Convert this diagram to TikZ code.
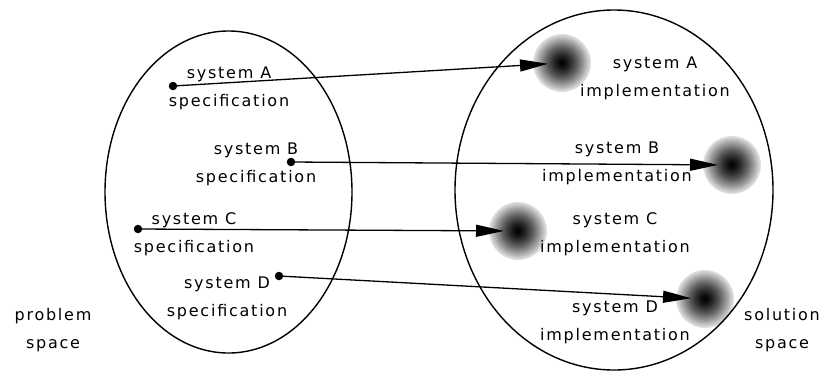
\documentclass[tikz,border=0pt]{standalone}
\usepackage{fontspec}
\newfontfamily\handfont[LetterSpace=11]{DejaVu Sans}
\usetikzlibrary{arrows.meta}

\begin{document}
\begin{tikzpicture}[
  x=1pt, y=-1pt,
  every node/.style={font=\handfont\fontsize{16}{28}\selectfont},
  lbl/.style={align=center, inner sep=0pt},
  dot/.style={circle, fill=black, inner sep=0pt, minimum size=8.5pt},
  spot/.style={circle, inner sep=0pt, minimum size=58pt},
  link/.style={line width=1.3pt, -{Triangle[length=28pt, width=12pt]}, shorten >=14pt},
  space/.style={draw, line width=1.4pt},
]
\useasboundingbox (0,0) rectangle (829,370);

% implementations, each a soft spot
\node[spot] (iA) at (562,63) {};
\node[spot] (iB) at (732,165) {};
\node[spot] (iC) at (518,231) {};
\node[spot] (iD) at (705,299) {};
\foreach \s in {iA,iB,iC,iD}
  \foreach \r in {29,28,...,1} {
    \pgfmathtruncatemacro\k{100-88*(\r/29)^1.4}
    \fill[black!\k] (\s.center) circle (\r pt);
  }

% the two spaces
\draw[space] (228.5,192) ellipse [x radius=123.5pt, y radius=161pt];
\draw[space] (614,190) ellipse [x radius=159pt, y radius=180pt];

% specifications
\node[dot] (sA) at (173,86) {};
\node[dot] (sB) at (291,162) {};
\node[dot] (sC) at (138,229) {};
\node[dot] (sD) at (279,276) {};

\draw[link] (sA.center) -- (iA.center);
\draw[link] (sB.center) -- (iB.center);
\draw[link] (sC.center) -- (iC.center);
\draw[link] (sD.center) -- (iD.center);

% labels
\node[lbl] (specA) at (229,88) {system A\\specification};
\node[lbl] (specB) at (256,164.5) {system B\\specification};
\node[lbl] (specC) at (194,234) {system C\\specification};
\node[lbl] (specD) at (227,298) {system D\\specification};

\node[lbl] (implA) at (655,78) {system A\\implementation};
\node[lbl] (implB) at (617,163) {system B\\implementation};
\node[lbl] (implC) at (615,234) {system C\\implementation};
\node[lbl] (implD) at (615,322.5) {system D\\implementation};

\node[lbl] (prob) at (53,330.5) {problem\\space};
\node[lbl] (sol) at (782,330.5) {solution\\space};
\end{tikzpicture}
\end{document}
